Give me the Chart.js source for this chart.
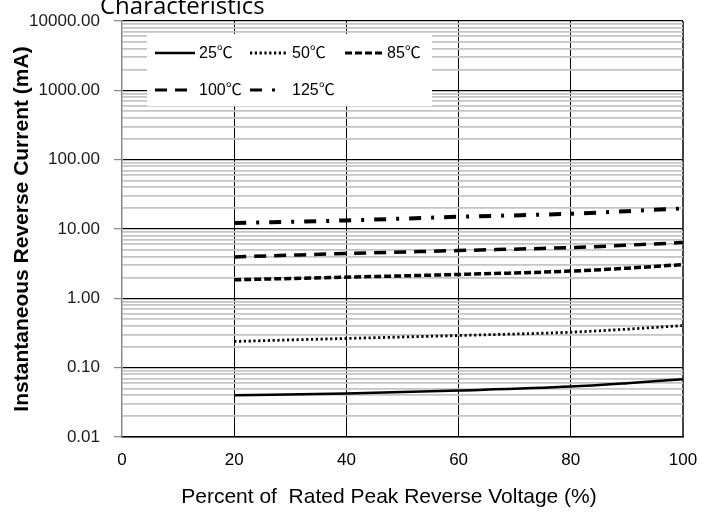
<!DOCTYPE html>
<html>
<head>
<meta charset="utf-8">
<script src="https://cdn.jsdelivr.net/npm/chart.js@4/dist/chart.umd.min.js"></script>
<style>
  html, body { margin: 0; padding: 0; background: #ffffff; }
  #wrap { position: relative; width: 705px; height: 515px; }
</style>
</head>
<body>
<div id="wrap"><canvas id="c" width="705" height="515"></canvas></div>
<script>
// ---- data ----
const xPercent = [20, 40, 60, 80, 90, 100];
const current25C  = [0.040, 0.0423, 0.0468, 0.0533, 0.0596, 0.068];
const current50C  = [0.239, 0.264, 0.291, 0.325, 0.359, 0.405];
const current85C  = [1.85, 2.02, 2.21, 2.47, 2.72, 3.07];
const current100C = [3.96, 4.43, 4.89, 5.40, 5.84, 6.37];
const current125C = [12.2, 13.3, 15.0, 16.6, 18.1, 19.8];
const seriesNames = ['25\u2103', '50\u2103', '85\u2103', '100\u2103', '125\u2103'];
const xTickLabels = ['0', '20', '40', '60', '80', '100'];
const yDecades = [0.01, 0.1, 1, 10, 100, 1000, 10000];
const yTickLabels = ['0.01', '0.10', '1.00', '10.00', '100.00', '1000.00', '10000.00'];
const titleText = 'Characteristics';
const xTitle = 'Percent of  Rated Peak Reverse Voltage (%)';
const yTitle = 'Instantaneous Reverse Current (mA)';

const narrow = '"Liberation Sans Narrow", "Liberation Sans", sans-serif';

const styles = [
  { borderWidth: 2.5, borderDash: [] },
  { borderWidth: 2.8, borderDash: [2.2, 2.6] },
  { borderWidth: 3.5, borderDash: [7, 3] },
  { borderWidth: 3.5, borderDash: [12, 8] },
  { borderWidth: 4,   borderDash: [12, 10, 3, 10] }
];
const allSeries = [current25C, current50C, current85C, current100C, current125C];

const datasets = allSeries.map((vals, i) => ({
  label: seriesNames[i],
  data: vals.map((v, j) => ({ x: xPercent[j], y: v })),
  borderColor: '#000000',
  backgroundColor: '#000000',
  borderWidth: styles[i].borderWidth,
  borderDash: styles[i].borderDash,
  borderCapStyle: 'butt',
  pointRadius: 0,
  tension: 0.4,
  cubicInterpolationMode: 'monotone',
  fill: false
}));

function isMajor(v) {
  const l = Math.log10(v);
  return Math.abs(l - Math.round(l)) < 1e-6;
}

const overlayPlugin = {
  id: 'overlay',
  afterDatasetsDraw(chart) {
    const ctx = chart.ctx;
    ctx.save();
    // title (cropped at the top like the reference)
    ctx.fillStyle = '#000';
    ctx.font = '24px "Open Sans", "Liberation Sans", sans-serif';
    ctx.textBaseline = 'alphabetic';
    ctx.textAlign = 'left';
    ctx.fillText(titleText, 100, 14);

    // x-axis title
    ctx.font = '21px ' + narrow;
    ctx.textAlign = 'center';
    ctx.textBaseline = 'middle';
    ctx.fillText(xTitle, 389, 497);

    // legend box
    const bx = 147, by = 34, bw = 285, bh = 72;
    ctx.fillStyle = '#ffffff';
    ctx.fillRect(bx, by, bw, bh);
    const items = [
      { x0: 155, x1: 195, tx: 199, y: 53 },
      { x0: 250, x1: 288, tx: 292, y: 53 },
      { x0: 345, x1: 384, tx: 387, y: 53 },
      { x0: 155, x1: 195, tx: 199, y: 90 },
      { x0: 250, x1: 284, tx: 292, y: 90 }
    ];
    items.forEach((it, i) => {
      const ds = chart.data.datasets[i];
      ctx.strokeStyle = '#000';
      ctx.lineWidth = Math.min(ds.borderWidth, 3);
      ctx.setLineDash(ds.borderDash);
      ctx.lineCap = 'butt';
      ctx.beginPath();
      ctx.moveTo(it.x0, it.y);
      ctx.lineTo(it.x1, it.y);
      ctx.stroke();
      ctx.setLineDash([]);
      ctx.fillStyle = '#000';
      ctx.font = '16px ' + narrow + ', "Noto Sans CJK SC"';
      ctx.textBaseline = 'middle';
      ctx.textAlign = 'left';
      ctx.fillText(ds.label, it.tx, it.y + 1);
    });
    ctx.restore();
  }
};

new Chart(document.getElementById('c'), {
  type: 'line',
  data: { datasets },
  plugins: [overlayPlugin],
  options: {
    responsive: false,
    animation: false,
    devicePixelRatio: 1,
    layout: { padding: { top: 21, right: 22, left: 0, bottom: 0 } },
    plugins: {
      legend: { display: false },
      tooltip: { enabled: false },
      title: { display: false }
    },
    scales: {
      x: {
        type: 'linear',
        min: 0, max: 100,
        afterBuildTicks: (axis) => { axis.ticks = xTickLabels.map(t => ({ value: Number(t) })); },
        afterFit: (axis) => { axis.height = 78; axis.paddingLeft = 0; axis.paddingRight = 0; },
        ticks: {
          autoSkip: false,
          maxRotation: 0,
          padding: 13,
          color: '#000',
          font: { family: narrow, size: 17 },
          callback: (v) => { const i = xTickLabels.indexOf(String(v)); return i >= 0 ? xTickLabels[i] : ''; }
        },
        grid: {
          drawTicks: false,
          color: (c) => (c.tick && c.tick.value === 0) ? 'rgba(0,0,0,0)' : (c.tick && c.tick.value === 100 ? '#444' : '#000'),
          lineWidth: (c) => (c.tick && c.tick.value === 100) ? 2 : 1
        },
        border: { display: true, color: '#000', width: 1.5 },
        title: { display: false, text: xTitle }
      },
      y: {
        type: 'logarithmic',
        min: 0.01, max: 10000,
        afterBuildTicks: (axis) => {
          const t = [];
          yDecades.forEach((d, i) => {
            if (i === yDecades.length - 1) { t.push({ value: d }); return; }
            for (let k = 1; k <= 9; k++) t.push({ value: +(d * k).toPrecision(6) });
          });
          axis.ticks = t;
        },
        afterFit: (axis) => { axis.width = 122; axis.paddingTop = 0; axis.paddingBottom = 0; },
        ticks: {
          autoSkip: false,
          padding: 14,
          color: '#1a1a1a',
          font: { family: narrow, size: 17 },
          callback: (v) => {
            for (let i = 0; i < yDecades.length; i++) {
              if (Math.abs(v - yDecades[i]) / yDecades[i] < 1e-6) return yTickLabels[i];
            }
            return '';
          }
        },
        grid: {
          tickLength: 8,
          color: (c) => (c.tick && isMajor(c.tick.value)) ? '#000' : '#c4c4c4',
          lineWidth: (c) => (c.tick && isMajor(c.tick.value)) ? 1.2 : 1.8,
          tickColor: (c) => (c.tick && isMajor(c.tick.value)) ? '#888' : 'rgba(0,0,0,0)'
        },
        border: { display: true, color: '#888', width: 1.5 },
        title: {
          display: true,
          text: yTitle,
          color: '#000',
          font: { family: '"Liberation Sans", Arial, sans-serif', size: 21, weight: 'bold' },
          padding: { top: 10, bottom: 0 }
        }
      }
    }
  }
});
</script>
</body>
</html>
